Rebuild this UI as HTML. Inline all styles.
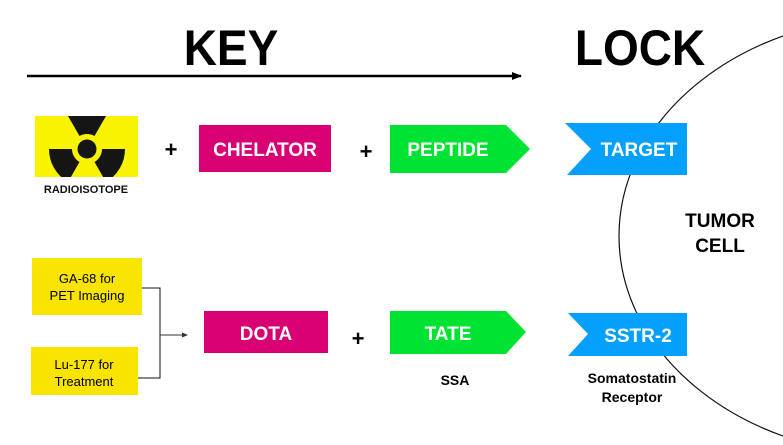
<!DOCTYPE html>
<html><head><meta charset="utf-8"><style>
html,body{margin:0;padding:0;background:#fff;}
svg{display:block;}
text{font-family:"Liberation Sans",Arial,sans-serif;font-weight:bold;}
</style></head><body>
<svg width="783" height="445" viewBox="0 0 783 445" xmlns="http://www.w3.org/2000/svg">
<defs>
<clipPath id="rc"><rect x="35" y="116" width="103" height="61"/></clipPath>
<marker id="ah" markerWidth="10" markerHeight="8" refX="9" refY="4" orient="auto" markerUnits="userSpaceOnUse"><path d="M0,0 L10,4 L0,8 z" fill="#000"/></marker>
<marker id="ah2" markerWidth="6" markerHeight="5" refX="5" refY="2.5" orient="auto" markerUnits="userSpaceOnUse"><path d="M0,0 L6,2.5 L0,5 z" fill="#333"/></marker>
</defs>
<ellipse cx="900" cy="236" rx="281" ry="220" fill="none" stroke="#111" stroke-width="1.2"/>
<text x="231" y="65" font-size="50" text-anchor="middle" fill="#000" transform="translate(231 0) scale(0.92 1) translate(-231 0)">KEY</text>
<text x="640" y="65" font-size="50" text-anchor="middle" fill="#000" transform="translate(640 0) scale(0.92 1) translate(-640 0)">LOCK</text>
<line x1="27" y1="76" x2="521" y2="76" stroke="#000" stroke-width="2.5" marker-end="url(#ah)"/>
<rect x="35" y="116" width="103" height="61" fill="#f8f400"/>
<g clip-path="url(#rc)" fill="#151515">
<path d="M79.5,136 L68,116 L69,110 L105,110 L106,116 L94.5,136 A15,15 0 0 0 79.5,136 z"/>
<path d="M102,149 A15,15 0 0 1 94.5,162 L106,182 A38,38 0 0 0 125,149 z"/>
<path d="M72,149 A15,15 0 0 0 79.5,162 L68,182 A38,38 0 0 1 49,149 z"/>
<circle cx="87" cy="149" r="9.5"/>
</g>
<text x="86" y="193" font-size="11" text-anchor="middle" fill="#111">RADIOISOTOPE</text>
<text x="171" y="157" font-size="22" text-anchor="middle" fill="#000">+</text>
<rect x="199" y="125" width="132" height="47" fill="#d80073"/>
<text x="265" y="156" font-size="19" text-anchor="middle" fill="#fff">CHELATOR</text>
<text x="366" y="159" font-size="22" text-anchor="middle" fill="#000">+</text>
<path d="M390,125 L506,125 L530,149 L506,173 L390,173 z" fill="#00e333"/>
<text x="448" y="156" font-size="19" text-anchor="middle" fill="#fff">PEPTIDE</text>
<path d="M565,123 L687,123 L687,175 L567,175 L591,149 z" fill="#059ffd"/>
<text x="639" y="156" font-size="19" text-anchor="middle" fill="#fff">TARGET</text>
<text x="720" y="227" font-size="19" text-anchor="middle" fill="#000">TUMOR</text>
<text x="720" y="252" font-size="19" text-anchor="middle" fill="#000">CELL</text>
<rect x="32" y="258" width="110" height="57" fill="#f9e400"/>
<text x="87" y="283" font-size="13" style="font-weight:normal" text-anchor="middle" fill="#000">GA-68 for</text>
<text x="87" y="300" font-size="13" style="font-weight:normal" text-anchor="middle" fill="#000">PET Imaging</text>
<rect x="31" y="347" width="107" height="48" fill="#f9e400"/>
<text x="84" y="369" font-size="13" style="font-weight:normal" text-anchor="middle" fill="#000">Lu-177 for</text>
<text x="84" y="386" font-size="13" style="font-weight:normal" text-anchor="middle" fill="#000">Treatment</text>
<path d="M142,288 L160,288 L160,378 L138,378" fill="none" stroke="#111" stroke-width="1"/>
<line x1="160" y1="335" x2="187" y2="335" stroke="#333" stroke-width="1" marker-end="url(#ah2)"/>
<rect x="204" y="311" width="124" height="42" fill="#d80073"/>
<text x="266" y="340" font-size="19" text-anchor="middle" fill="#fff">DOTA</text>
<text x="358" y="346" font-size="22" text-anchor="middle" fill="#000">+</text>
<path d="M390,311 L506,311 L526,332 L506,354 L390,354 z" fill="#00e333"/>
<text x="448" y="340" font-size="19" text-anchor="middle" fill="#fff">TATE</text>
<path d="M568,313 L687,313 L687,356 L568,356 L588,334 z" fill="#059ffd"/>
<text x="638" y="342" font-size="19" text-anchor="middle" fill="#fff">SSTR-2</text>
<text x="455" y="385" font-size="14" text-anchor="middle" fill="#000">SSA</text>
<text x="632" y="383" font-size="14" text-anchor="middle" fill="#000">Somatostatin</text>
<text x="632" y="402" font-size="14" text-anchor="middle" fill="#000">Receptor</text>
</svg>
</body></html>
